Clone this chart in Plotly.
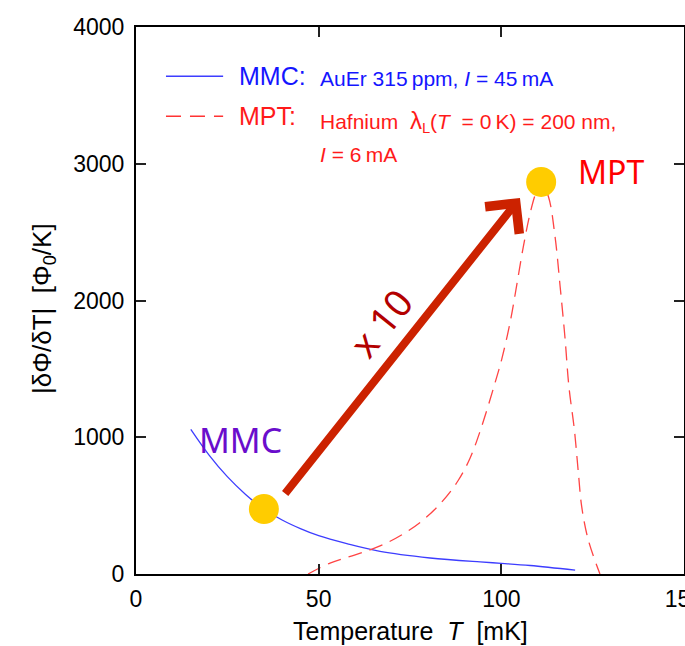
import plotly.graph_objects as go

# MMC (AuEr 315 ppm, I = 45 mA): temperature [mK] and |dPhi/dT| [Phi0/K]
mmc_T = [15.0, 20.0, 25.0, 30.0, 35.0, 40.0, 45.0, 50.0, 57.7, 66.8, 80.5, 94.2, 100.0, 107.9, 120.2]
mmc_S = [1058, 870, 712, 582, 475, 395, 332, 280, 222, 165, 117, 88, 78, 62, 28]

# MPT (Hafnium, lambda_L(0 K) = 200 nm, I = 6 mA)
mpt_T = [47.1, 53.1, 60.0, 66.8, 73.1, 78.6, 83.7, 88.1, 91.4, 94.2, 98.3, 100.1, 102.4, 104.2,
         106.0, 107.9, 109.5, 110.9, 112.9, 114.7, 116.1, 117.4, 118.5, 120.0, 121.1, 122.0,
         123.8, 127.0]
mpt_S = [0, 80, 140, 205, 292, 395, 527, 680, 845, 1045, 1400, 1570, 1840, 2110,
         2390, 2640, 2790, 2867, 2759, 2467, 2101, 1735, 1370, 1053, 736, 492,
         249, 0]

# Operating points compared by the arrow
mmc_op_T = 35.0
mpt_op_T = 110.9

x_ticks = [0, 50, 100, 150]
y_ticks = [0, 1000, 2000, 3000, 4000]

FONT = "Liberation Sans, Arial, sans-serif"
HAND = "Comic Sans MS, Noto Sans, sans-serif"

mmc_op_S = mmc_S[mmc_T.index(mmc_op_T)]
mpt_op_S = mpt_S[mpt_T.index(mpt_op_T)]

fig = go.Figure()
fig.add_trace(go.Scatter(x=mmc_T, y=mmc_S, mode="lines",
                         line=dict(color="#3d3dff", width=1.3, shape="spline", smoothing=1.0),
                         showlegend=False))
fig.add_trace(go.Scatter(x=mpt_T, y=mpt_S, mode="lines",
                         line=dict(color="#ff4444", width=1.3, dash="14px,8px", shape="spline", smoothing=1.0),
                         showlegend=False))
fig.add_trace(go.Scatter(x=[mmc_op_T, mpt_op_T], y=[mmc_op_S, mpt_op_S], mode="markers",
                         marker=dict(color="#ffcc00", size=30, line=dict(width=0)), showlegend=False))

# x10 arrow from the MMC point towards the MPT point
fig.add_annotation(x=105.1, y=2750, ax=40.5, ay=578, xref="x", yref="y", axref="x", ayref="y",
                   text="", showarrow=True, arrowhead=4, arrowsize=1.05, arrowwidth=8,
                   arrowcolor="#cc2200")
fig.add_annotation(x=66.8, y=1835, text="x 10", showarrow=False, textangle=-51,
                   font=dict(family=HAND, size=38, color="#b30000"))
fig.add_annotation(x=28.5, y=980, text="MMC", showarrow=False,
                   font=dict(family=HAND, size=34, color="#6a0dcc"))
fig.add_annotation(x=130.0, y=2947, text="MPT", showarrow=False,
                   font=dict(family=HAND, size=32, color="#ff0000"))

# legend block
fig.add_shape(type="line", xref="paper", yref="paper", x0=0.0547, x1=0.159, y0=0.910, y1=0.910,
              line=dict(color="#3d3dff", width=1.5))
fig.add_shape(type="line", xref="paper", yref="paper", x0=0.0547, x1=0.159, y0=0.837, y1=0.837,
              line=dict(color="#ff3333", width=1.5, dash="15px,9px"))
fig.add_annotation(xref="paper", yref="paper", x=0.184, y=0.910, xanchor="left", yanchor="middle",
                   text="MMC:", showarrow=False, font=dict(family=FONT, size=25, color="#1515ff"))
fig.add_annotation(xref="paper", yref="paper", x=0.332, y=0.906, xanchor="left", yanchor="middle",
                   text="AuEr 315\u2009ppm, <i>I</i> = 45\u2009mA", showarrow=False,
                   font=dict(family=FONT, size=21, color="#1515ff"))
fig.add_annotation(xref="paper", yref="paper", x=0.184, y=0.837, xanchor="left", yanchor="middle",
                   text="MPT:", showarrow=False, font=dict(family=FONT, size=25, color="#ff1a1a"))
fig.add_annotation(xref="paper", yref="paper", x=0.332, y=0.828, xanchor="left", yanchor="middle",
                   text="Hafnium  <span style='font-size:24px'>\u03bb</span><sub>L</sub>(<i>T</i>  = 0\u2009K) = 200 nm,",
                   showarrow=False, font=dict(family=FONT, size=21, color="#ff1a1a"))
fig.add_annotation(xref="paper", yref="paper", x=0.332, y=0.766, xanchor="left", yanchor="middle",
                   text="<i>I</i> = 6\u2009mA", showarrow=False,
                   font=dict(family=FONT, size=21, color="#ff1a1a"))

# axis titles
fig.add_annotation(xref="paper", yref="paper", x=0.5, y=-0.104, xanchor="center", yanchor="middle",
                   text="Temperature  <i>T</i>  [mK]", showarrow=False,
                   font=dict(family=FONT, size=25, color="black"))
fig.add_annotation(xref="paper", yref="paper", x=-0.17, y=0.486, xanchor="center", yanchor="middle",
                   text="|\u03b4\u03a6/\u03b4T|  [\u03a6<sub>0</sub>/K]", showarrow=False, textangle=-90,
                   font=dict(family=FONT, size=26, color="black"))

axis_common = dict(showgrid=False, zeroline=False, showline=True, linecolor="black", linewidth=2,
                   mirror="ticks", ticks="inside", ticklen=10, tickwidth=1.5, tickcolor="#222",
                   tickfont=dict(family=FONT, size=23, color="black"), automargin=False,
                   ticklabeloverflow="allow")
fig.update_xaxes(range=[0, 150], tickvals=x_ticks, ticklabelstandoff=3, **axis_common)
fig.update_yaxes(range=[0, 4000], tickvals=y_ticks, ticklabelstandoff=5, **axis_common)

fig.update_layout(width=685, height=646, margin=dict(l=136, r=1, t=27, b=72),
                  plot_bgcolor="white", paper_bgcolor="white", showlegend=False)

fig.write_html("out.html")
